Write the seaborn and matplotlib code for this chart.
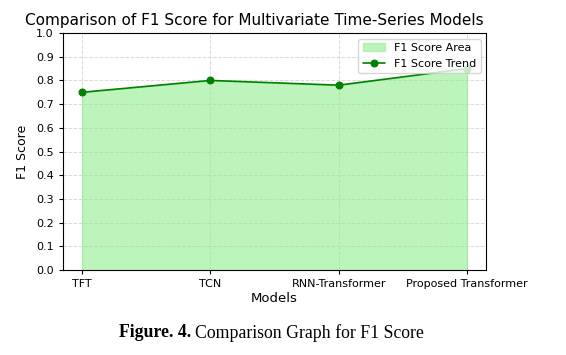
import matplotlib
matplotlib.use("Agg")
import matplotlib.pyplot as plt
import seaborn as sns
import pandas as pd

models = ["TFT", "TCN", "RNN-Transformer", "Proposed Transformer"]
f1_scores = [0.75, 0.80, 0.78, 0.85]
y_ticks = [0.0, 0.1, 0.2, 0.3, 0.4, 0.5, 0.6, 0.7, 0.8, 0.9, 1.0]

df = pd.DataFrame({"model": models, "f1": f1_scores, "pos": range(len(models))})

sns.set_style("white")
plt.rcParams["font.family"] = ["DejaVu Sans"]
plt.rcParams["text.color"] = "black"
plt.rcParams["axes.labelcolor"] = "black"
plt.rcParams["xtick.color"] = "black"
plt.rcParams["ytick.color"] = "black"

fig = plt.figure(figsize=(5.66, 3.55), dpi=100)
ax = fig.add_axes([0.111, 0.239, 0.748, 0.668])

ax.fill_between(df["pos"], df["f1"], color="lightgreen", alpha=0.6, label="F1 Score Area")
sns.lineplot(data=df, x="pos", y="f1", marker="o", color="green", markersize=5,
             markeredgecolor="green", linewidth=1.2, label="F1 Score Trend", ax=ax)

ax.set_ylim(0, 1.0)
ax.set_yticks(y_ticks)
ax.set_xticks(df["pos"])
ax.set_xticklabels(models)
ax.tick_params(axis="both", labelsize=8, length=3, width=0.8, direction="out", bottom=True, left=True)
for s in ax.spines.values():
    s.set_color("black")
    s.set_linewidth(0.8)
ax.grid(True, linestyle="--", color="#d9d9d9", linewidth=0.7)
ax.set_axisbelow(True)

ax.set_title("Comparison of F1 Score for Multivariate Time-Series Models", fontsize=11, pad=6, x=0.452)
ax.set_xlabel("Models", fontsize=9.5, labelpad=2)
ax.set_ylabel("F1 Score", fontsize=9, labelpad=5)
ax.legend(loc="upper right", fontsize=8, frameon=True, framealpha=0.8, edgecolor="#cccccc")

# caption: bold lead-in followed by regular text
r = fig.canvas.get_renderer()
t1 = fig.text(0.21, 0.063, "Figure. 4.", ha="left", va="center", fontsize=12.8,
              family="Liberation Serif", weight="bold")
w = t1.get_window_extent(renderer=r).width / fig.bbox.width
fig.text(0.21 + w + 0.007, 0.063, "Comparison Graph for F1 Score", ha="left", va="center",
         fontsize=12.8, family="Liberation Serif")

fig.savefig("out.png", dpi=100)
